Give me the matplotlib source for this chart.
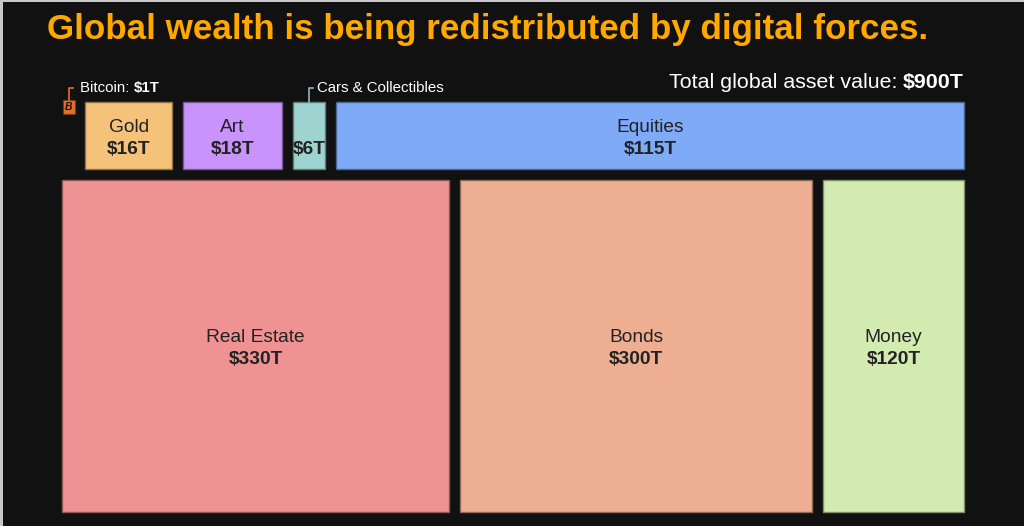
import matplotlib.pyplot as plt
from matplotlib.patches import Rectangle
from matplotlib.colors import to_rgb

plt.rcParams['font.family'] = ['Liberation Sans', 'DejaVu Sans']

TITLE = "Global wealth is being redistributed by digital forces."
TOTAL = 900

# top row (small assets) and bottom row (big assets), values in $T
top_names = ["Gold", "Art", "Cars & Collectibles", "Equities"]
top_values = [16, 18, 6, 115]
top_colors = ["#f5c27a", "#c893fb", "#9ed4cf", "#7eaaf7"]

bottom_names = ["Real Estate", "Bonds", "Money"]
bottom_values = [330, 300, 120]
bottom_colors = ["#ee9293", "#eeae92", "#d3ebb1"]

btc_name = "Bitcoin"
btc_value = 1
btc_color = "#e07030"

BG = "#111111"
INK = "#222222"
FS = 13.8

W, H = 1024, 526
fig = plt.figure(figsize=(W / 100, H / 100), dpi=100, facecolor=BG)
ax = fig.add_axes([0, 0, 1, 1])
ax.set_xlim(0, W)
ax.set_ylim(H, 0)
ax.axis('off')
ax.set_facecolor(BG)

# thin light frame on left / top, like the screenshot
ax.add_patch(Rectangle((0, 0), 3, H, color="#c8c8c8", lw=0))
ax.add_patch(Rectangle((0, 0), W, 1.5, color="#c8c8c8", lw=0))


def darker(c, f=0.6):
    r, g, b = to_rgb(c)
    return (r * f, g * f, b * f)


def row(values, x0, x1, gap):
    # widths proportional to value, fixed gaps between boxes
    avail = x1 - x0 - gap * (len(values) - 1)
    total = sum(values)
    out = []
    x = x0
    for v in values:
        w = avail * v / total
        out.append((x, w))
        x += w + gap
    return out


def box(x, y, w, h, color, name, value, dy=0):
    ax.add_patch(Rectangle((x, y), w, h, facecolor=color,
                           edgecolor=darker(color), lw=1))
    cx, cy = x + w / 2, y + h / 2 + dy
    if name:
        ax.text(cx, cy - 10, name, ha='center', va='center',
                fontsize=FS, color=INK)
    ax.text(cx, cy + 12, f"${value}T", ha='center', va='center',
            fontsize=FS, color=INK, fontweight='bold')


GAP = 11
TOP_Y, TOP_H = 102, 67
BOT_Y, BOT_H = 180, 332

# top row
for (x, w), name, v, c in zip(row(top_values, 85, 964, GAP),
                              top_names, top_values, top_colors):
    if name == "Cars & Collectibles":
        box(x, TOP_Y, w, TOP_H, c, None, v, dy=2)
        ax.plot([x + w / 2, x + w / 2, x + w / 2 + 4], [TOP_Y, 88, 88],
                color="#8fb8b4", lw=1.2)
        ax.text(x + w / 2 + 8, 88, name, ha='left', va='center',
                fontsize=10.8, color='white')
    else:
        box(x, TOP_Y, w, TOP_H, c, name, v, dy=2)

# bottom row
for (x, w), name, v, c in zip(row(bottom_values, 62, 964, GAP),
                              bottom_names, bottom_values, bottom_colors):
    box(x, BOT_Y, w, BOT_H, c, name, v, dy=1)

# bitcoin icon
ax.add_patch(Rectangle((62.5, 100), 12.5, 14, facecolor=btc_color,
                       edgecolor="#7a3a10", lw=0.8))
ax.text(68.7, 107.3, "B", ha='center', va='center', fontsize=7.5,
        color="#2a1000", fontweight='bold', style='italic')
ax.plot([68.7, 68.7, 73], [100, 88, 88], color=btc_color, lw=1.2)
t1 = ax.text(80, 88, f"{btc_name}: ", ha='left', va='center',
             fontsize=10.8, color='white')
ax.annotate(f"${btc_value}T", xy=(1, 0), xycoords=t1, ha='left',
            va='bottom', fontsize=10.8, color='white', fontweight='bold')

# total line, right aligned
tb = ax.text(964, 82, f"${TOTAL}T", ha='right', va='center',
             fontsize=15.4, color='white', fontweight='bold')
ax.annotate("Total global asset value: ", xy=(0, 0), xycoords=tb,
            ha='right', va='bottom', fontsize=15.4, color='white')

# title
ax.text(47, 29, TITLE, ha='left', va='center', fontsize=25.2,
        color="#ffa800", fontweight='bold')

fig.savefig("out.png", dpi=100, facecolor=BG)
